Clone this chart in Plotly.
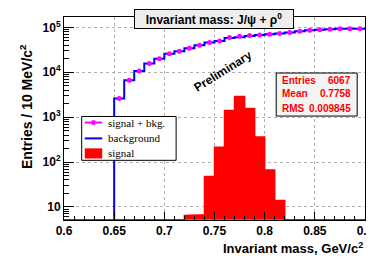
import numpy as np
import plotly.graph_objects as go

# bin edges 0.60 .. 0.90, 10 MeV bins
bin_lo = [round(0.60 + 0.01 * i, 2) for i in range(30)]
background = [0, 0, 0, 0, 0,
              2600, 6600, 10700, 15600, 20000,
              25900, 29500, 34000, 39800, 45900,
              49700, 57600, 60000, 64400, 67500,
              70000, 73000, 77000, 82000, 86000,
              88000, 91000, 93000, 93000, 93000]
signal = [0, 0, 0, 0, 0,
          0, 0, 0, 0, 0,
          0, 0, 6.5, 6.7, 48,
          215, 1400, 2900, 1550, 360,
          67, 14, 0, 0, 0,
          0, 0, 0, 0, 0]
x_ticks = [0.6, 0.65, 0.7, 0.75, 0.8, 0.85, 0.9]
x_ticklabels = ["0.6", "0.65", "0.7", "0.75", "0.8", "0.85", "0.9"]
y_ticks = [10, 100, 1000, 10000, 100000]
y_ticklabels = ["10", "10<sup>2</sup>", "10<sup>3</sup>", "10<sup>4</sup>", "10<sup>5</sup>"]
stats = [("Entries", "6067"), ("Mean", "0.7758"), ("RMS", "0.009845")]
legend_labels = ["signal + bkg.", "background", "signal"]

bw = 0.01
ylog_range = [0.71, 5.23]
floor = 10 ** (ylog_range[0] + 0.004)
floor_hidden = 10 ** (ylog_range[0] - 0.05)

lo = np.array(bin_lo)
bkg = np.array(background, dtype=float)
sig = np.array(signal, dtype=float)
centers = lo + bw / 2
step_x = np.append(lo, lo[-1] + bw)

fig = go.Figure()

# background step line
bkg_c = np.where(bkg > 0, bkg, floor_hidden)
fig.add_trace(go.Scatter(x=step_x, y=np.append(bkg_c, bkg_c[-1]), mode="lines",
                         line=dict(color="#0000ff", width=2, shape="hv"),
                         showlegend=False))
# signal fill polygon (histogram outline closed down to the axis floor)
sig_c = np.maximum(sig, floor)
px, py = [step_x[0]], [floor]
for i in range(len(lo)):
    px += [step_x[i], step_x[i + 1]]
    py += [sig_c[i], sig_c[i]]
px += [step_x[-1]]
py += [floor]
fig.add_trace(go.Scatter(x=px, y=py, mode="lines", fill="toself", fillcolor="#ff0000",
                         line=dict(color="#ff0000", width=1.5),
                         showlegend=False, hoverinfo="skip"))
# signal + background markers
tot = bkg + sig
mask = bkg > 0
fig.add_trace(go.Scatter(x=centers[mask], y=tot[mask], mode="markers",
                         marker=dict(color="#ff00ff", size=5, symbol="circle"),
                         showlegend=False))

tickfont = dict(family="Arial, Liberation Sans, sans-serif", size=12, color="black", weight="bold")

fig.update_layout(
    width=374, height=260,
    margin=dict(l=56, r=12, t=8, b=48),
    paper_bgcolor="white", plot_bgcolor="white",
    showlegend=False,
    xaxis=dict(range=[0.6, 0.9], tickvals=x_ticks, ticktext=x_ticklabels,
               ticks="inside", ticklen=8, tickcolor="black", tickfont=tickfont,
               showline=True, linecolor="black", linewidth=1, mirror=True,
               showgrid=True, gridcolor="#b0b0b0", griddash="dot", gridwidth=1,
               zeroline=False,
               minor=dict(dtick=0.01, ticks="inside", ticklen=4, tickcolor="black", showgrid=False)),
    yaxis=dict(type="log", range=ylog_range, tickvals=y_ticks, ticktext=y_ticklabels,
               ticks="inside", ticklen=10, tickcolor="black", tickfont=tickfont,
               showline=True, linecolor="black", linewidth=1, mirror=True,
               showgrid=True, gridcolor="#b0b0b0", griddash="dot", gridwidth=1,
               zeroline=False,
               minor=dict(dtick="D1", ticks="inside", ticklen=5, tickcolor="black", showgrid=False)),
)

ann_font = dict(family="Arial, Liberation Sans, sans-serif", color="black", weight="bold")

# title box
fig.add_annotation(xref="paper", yref="paper", x=0.497, y=1.037, xanchor="center", yanchor="top",
                   text="Invariant mass: J/ψ + ρ<sup>0</sup>", showarrow=False,
                   font=dict(size=12, **ann_font), bgcolor="#eeeeee",
                   bordercolor="black", borderwidth=1, borderpad=1, width=156)
# axis titles
fig.add_annotation(xref="paper", yref="paper", x=1.0, y=-0.137, xanchor="right", yanchor="middle",
                   text="Invariant mass, GeV/c<sup>2</sup>", showarrow=False,
                   font=dict(size=13, **ann_font))
fig.add_annotation(xref="paper", yref="paper", x=-0.124, y=0.56, xanchor="center", yanchor="middle",
                   text="Entries / 10 MeV/c<sup>2</sup>", showarrow=False, textangle=-90,
                   font=dict(size=14, **ann_font))
# preliminary
fig.add_annotation(xref="paper", yref="paper", x=0.529, y=0.735, xanchor="center", yanchor="middle",
                   text="Preliminary", showarrow=False, textangle=-32,
                   font=dict(size=12, **ann_font))
# stats box
fig.add_shape(type="rect", xref="paper", yref="paper", x0=0.705, x1=0.974, y0=0.512, y1=0.724,
              fillcolor="#f4f4f4", line=dict(color="black", width=1), layer="above")
row_y = [0.687, 0.621, 0.548]
for (lab, val), yy in zip(stats, row_y):
    fig.add_annotation(xref="paper", yref="paper", x=0.719, y=yy, xanchor="left", yanchor="middle",
                       text=lab, showarrow=False,
                       font=dict(family="Arial, Liberation Sans, sans-serif", size=10, color="#ff0000", weight="bold"))
    fig.add_annotation(xref="paper", yref="paper", x=0.96, y=yy, xanchor="right", yanchor="middle",
                       text=val, showarrow=False,
                       font=dict(family="Arial, Liberation Sans, sans-serif", size=10, color="#ff0000", weight="bold"))

# legend box (drawn manually to match compact ROOT legend)
fig.add_shape(type="rect", xref="paper", yref="paper", x0=0.0588, x1=0.3725, y0=0.294, y1=0.510,
              fillcolor="white", line=dict(color="black", width=1), layer="above")
leg_y = [0.480, 0.402, 0.328]
fig.add_shape(type="line", xref="paper", yref="paper", x0=0.069, x1=0.127, y0=leg_y[0], y1=leg_y[0],
              line=dict(color="#ff00ff", width=2), layer="above")
fig.add_shape(type="rect", xref="paper", yref="paper", x0=0.092, x1=0.104, y0=leg_y[0] - 0.011, y1=leg_y[0] + 0.011,
              fillcolor="#ff00ff", line=dict(color="#ff00ff", width=0), layer="above")
fig.add_shape(type="line", xref="paper", yref="paper", x0=0.069, x1=0.127, y0=leg_y[1], y1=leg_y[1],
              line=dict(color="#0000ff", width=2), layer="above")
fig.add_shape(type="rect", xref="paper", yref="paper", x0=0.069, x1=0.127, y0=leg_y[2] - 0.025, y1=leg_y[2] + 0.025,
              fillcolor="#ff0000", line=dict(color="#ff0000", width=0), layer="above")
for lab, yy in zip(legend_labels, leg_y):
    fig.add_annotation(xref="paper", yref="paper", x=0.139, y=yy, xanchor="left", yanchor="middle",
                       text=lab, showarrow=False,
                       font=dict(family="Liberation Serif, Times New Roman, serif", size=11, color="black"))

fig.write_html("out.html")
